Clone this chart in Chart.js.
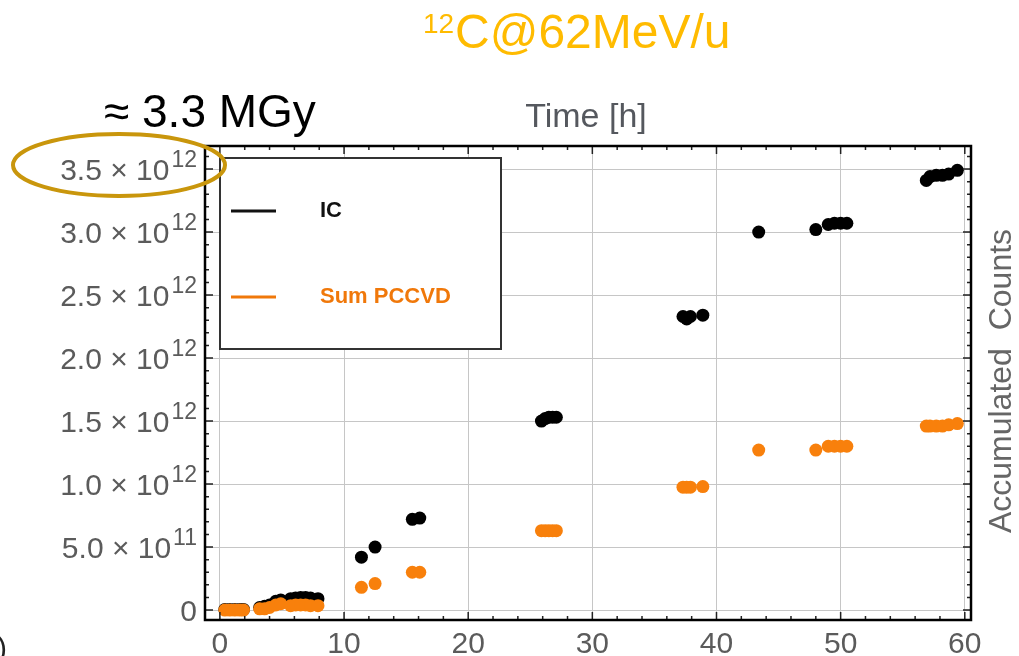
<!DOCTYPE html>
<html>
<head>
<meta charset="utf-8">
<script src="https://cdn.jsdelivr.net/npm/chart.js@4.4.1/dist/chart.umd.min.js"></script>
<style>
  html, body { margin: 0; padding: 0; background: #fff; }
  canvas { display: block; }
</style>
</head>
<body>
<canvas id="chart" width="1019" height="656"></canvas>
<script>
// time of each measurement [h]
var hours = [0.4, 0.8, 1.2, 1.6, 1.9,
    3.2, 3.6, 4.0, 4.5, 4.9,
    5.7, 6.1, 6.5, 6.9, 7.3, 7.9,
    11.4, 12.5, 15.5, 16.1,
    25.9, 26.2, 26.5, 26.8, 27.1,
    37.3, 37.6, 37.9, 38.9,
    43.4, 48.0, 49.0, 49.5, 50.0, 50.5,
    56.9, 57.2, 57.7, 58.2, 58.7, 59.4];

var icCounts = [0.005e12, 0.005e12, 0.005e12, 0.005e12, 0.005e12,
    0.02e12, 0.03e12, 0.04e12, 0.07e12, 0.08e12,
    0.09e12, 0.095e12, 0.1e12, 0.1e12, 0.095e12, 0.09e12,
    0.42e12, 0.50e12, 0.72e12, 0.73e12,
    1.50e12, 1.52e12, 1.53e12, 1.53e12, 1.53e12,
    2.33e12, 2.31e12, 2.33e12, 2.34e12,
    3.00e12, 3.02e12, 3.06e12, 3.07e12, 3.07e12, 3.07e12,
    3.41e12, 3.44e12, 3.45e12, 3.45e12, 3.46e12, 3.49e12];

var pccvdCounts = [0, 0, 0, 0, 0,
    0.01e12, 0.01e12, 0.02e12, 0.04e12, 0.05e12,
    0.035e12, 0.04e12, 0.04e12, 0.04e12, 0.035e12, 0.035e12,
    0.18e12, 0.21e12, 0.30e12, 0.30e12,
    0.63e12, 0.63e12, 0.63e12, 0.63e12, 0.63e12,
    0.975e12, 0.975e12, 0.975e12, 0.98e12,
    1.27e12, 1.27e12, 1.30e12, 1.30e12, 1.30e12, 1.30e12,
    1.46e12, 1.46e12, 1.46e12, 1.46e12, 1.47e12, 1.48e12];

var xTickValues = [0, 10, 20, 30, 40, 50, 60];
var xTickLabels = ['0', '10', '20', '30', '40', '50', '60'];

var yTickValues = [0, 0.5e12, 1.0e12, 1.5e12, 2.0e12, 2.5e12, 3.0e12, 3.5e12];
var yTickLabels = ['0', '5.0×10^11', '1.0×10^12', '1.5×10^12', '2.0×10^12',
    '2.5×10^12', '3.0×10^12', '3.5×10^12'];

var FONT = '"Liberation Sans", Arial, sans-serif';
var BLACK = '#000000';
var ORANGE = 'rgb(248,128,12)';
var LABEL_GRAY = '#5b5b5b';

function toPoints(xs, ys) {
    var points = [];
    for (var i = 0; i < xs.length; i++) {
        points.push({x: xs[i], y: ys[i]});
    }
    return points;
}

// frame, ticks, tick labels, legend box and the notes around the plot
var decorations = {
    id: 'decorations',
    afterDraw: function (chart) {
        var ctx = chart.ctx;
        var area = chart.chartArea;
        var xs = chart.scales.x;
        var ys = chart.scales.y;

        ctx.save();

        // frame ticks (inward, on all four sides)
        ctx.strokeStyle = '#222';
        ctx.lineWidth = 1.5;
        for (var i = 0; i <= 30; i++) {
            var px = xs.getPixelForValue(i * 2);
            var len = (i % 5 === 0) ? 8 : 4;
            ctx.beginPath();
            ctx.moveTo(px, area.bottom);
            ctx.lineTo(px, area.bottom - len);
            ctx.moveTo(px, area.top);
            ctx.lineTo(px, area.top + len);
            ctx.stroke();
        }
        for (var j = 0; j <= 36; j++) {
            var py = ys.getPixelForValue(j * 0.1e12);
            var ylen = (j % 5 === 0) ? 8 : 4;
            ctx.beginPath();
            ctx.moveTo(area.left, py);
            ctx.lineTo(area.left + ylen, py);
            ctx.moveTo(area.right, py);
            ctx.lineTo(area.right - ylen, py);
            ctx.stroke();
        }

        // frame
        ctx.strokeStyle = BLACK;
        ctx.lineWidth = 2.5;
        ctx.strokeRect(area.left, area.top, area.right - area.left, area.bottom - area.top);

        // x tick labels
        ctx.fillStyle = LABEL_GRAY;
        ctx.font = '30px ' + FONT;
        ctx.textAlign = 'center';
        ctx.textBaseline = 'alphabetic';
        xTickValues.forEach(function (v, k) {
            ctx.fillText(xTickLabels[k], xs.getPixelForValue(v), 653);
        });

        // y tick labels with superscript exponents
        var rightEdge = 197;
        yTickValues.forEach(function (v, k) {
            var py = ys.getPixelForValue(v);
            var parts = yTickLabels[k].split('^');
            ctx.textAlign = 'right';
            if (parts.length === 1) {
                ctx.font = '30px ' + FONT;
                ctx.fillText(parts[0], rightEdge, py + 11);
                return;
            }
            ctx.font = '23px ' + FONT;
            var supWidth = ctx.measureText(parts[1]).width;
            ctx.fillText(parts[1], rightEdge, py - 2);
            ctx.font = '30px ' + FONT;
            var main = parts[0].replace('×', ' × ');
            ctx.fillText(main, rightEdge - supWidth - 2, py + 11);
        });

        // axis titles
        ctx.fillStyle = '#55585e';
        ctx.font = '34px ' + FONT;
        ctx.textAlign = 'center';
        ctx.fillText('Time [h]', 586, 127);

        ctx.save();
        ctx.translate(1011, 381);
        ctx.rotate(-Math.PI / 2);
        ctx.fillStyle = '#666';
        ctx.font = '32px ' + FONT;
        ctx.textAlign = 'center';
        ctx.textBaseline = 'alphabetic';
        ctx.fillText('Accumulated  Counts', 0, 0);
        ctx.restore();

        // legend box
        ctx.fillStyle = '#fff';
        ctx.fillRect(220, 158, 281, 191);
        ctx.strokeStyle = '#333';
        ctx.lineWidth = 2;
        ctx.strokeRect(220, 158, 281, 191);
        var legendRows = [211, 297];
        chart.data.datasets.forEach(function (ds, k) {
            var ly = legendRows[k];
            ctx.strokeStyle = ds.legendColor;
            ctx.lineWidth = 3;
            ctx.beginPath();
            ctx.moveTo(231, ly);
            ctx.lineTo(276, ly);
            ctx.stroke();
            ctx.fillStyle = ds.legendColor;
            ctx.font = 'bold 22px ' + FONT;
            ctx.textAlign = 'left';
            ctx.textBaseline = 'middle';
            ctx.fillText(ds.label, 320, ly);
        });
        ctx.textBaseline = 'alphabetic';

        // title
        ctx.fillStyle = '#ffbb00';
        ctx.textAlign = 'left';
        ctx.font = '28px ' + FONT;
        ctx.fillText('12', 423, 33);
        ctx.font = '48px ' + FONT;
        ctx.fillText('C@62MeV/u', 455, 48);

        // dose note
        ctx.fillStyle = '#000';
        ctx.font = '46px ' + FONT;
        ctx.fillText('≈ 3.3 MGy', 104, 127);

        // highlight around the top tick label
        ctx.strokeStyle = '#c9960c';
        ctx.lineWidth = 4;
        ctx.beginPath();
        ctx.ellipse(119, 165, 106, 31, 0, 0, Math.PI * 2);
        ctx.stroke();

        // cropped glyph at the lower left edge
        ctx.fillStyle = '#222';
        ctx.font = '30px ' + FONT;
        ctx.fillText(')', -3, 658);

        ctx.restore();
    }
};

var gridStyle = {
    color: '#c6c6c6',
    lineWidth: 1,
    drawTicks: false
};

new Chart(document.getElementById('chart'), {
    type: 'scatter',
    data: {
        datasets: [{
            label: 'IC',
            data: toPoints(hours, icCounts),
            backgroundColor: BLACK,
            borderWidth: 0,
            pointRadius: 6.5,
            legendColor: '#111',
            order: 1
        }, {
            label: 'Sum PCCVD',
            data: toPoints(hours, pccvdCounts),
            backgroundColor: ORANGE,
            borderWidth: 0,
            pointRadius: 6.5,
            legendColor: 'rgb(240,120,10)',
            order: 0
        }]
    },
    options: {
        responsive: false,
        animation: false,
        devicePixelRatio: 1,
        layout: {
            padding: {left: 205, right: 48, top: 146, bottom: 36}
        },
        plugins: {
            legend: {display: false},
            tooltip: {enabled: false}
        },
        scales: {
            x: {
                type: 'linear',
                min: -1.2,
                max: 60.5,
                afterBuildTicks: function (axis) {
                    axis.ticks = xTickValues.map(function (v) { return {value: v}; });
                },
                ticks: {display: false},
                grid: gridStyle,
                border: {display: false}
            },
            y: {
                type: 'linear',
                min: -0.079e12,
                max: 3.683e12,
                afterBuildTicks: function (axis) {
                    axis.ticks = yTickValues.map(function (v) { return {value: v}; });
                },
                ticks: {display: false},
                grid: gridStyle,
                border: {display: false}
            }
        }
    },
    plugins: [decorations]
});
</script>
</body>
</html>
